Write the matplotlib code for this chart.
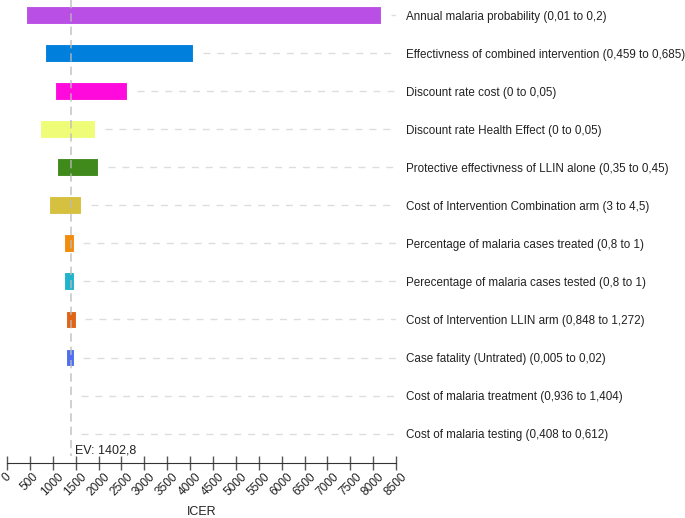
import matplotlib
matplotlib.use('Agg')
import matplotlib.pyplot as plt
import numpy as np

plt.rcParams['font.family'] = ['Liberation Sans', 'DejaVu Sans']

# ===== data =====
labels = ['Annual malaria probability (0,01 to 0,2)',
          'Effectivness of combined intervention (0,459 to 0,685)',
          'Discount rate cost (0 to 0,05)',
          'Discount rate Health Effect (0 to 0,05)',
          'Protective effectivness of LLIN alone (0,35 to 0,45)',
          'Cost of Intervention Combination arm (3 to 4,5)',
          'Percentage of malaria cases treated (0,8 to 1)',
          'Perecentage of malaria cases tested (0,8 to 1)',
          'Cost of Intervention LLIN arm (0,848 to 1,272)',
          'Case fatality (Untrated) (0,005 to 0,02)',
          'Cost of malaria treatment (0,936 to 1,404)',
          'Cost of malaria testing (0,408 to 0,612)']
low = [415, 830, 1050, 720, 1095, 910, 1245, 1245, 1290, 1290, 1402.8, 1402.8]
high = [8170, 4065, 2620, 1925, 1990, 1615, 1455, 1455, 1500, 1455, 1402.8, 1402.8]
colors = ['#ba4fe6', '#0080dc', '#ff0adc', '#eefc78', '#3f8a1a', '#d6c040',
          '#f28c0f', '#1fb4cc', '#e06416', '#4f6ef0', '#cccccc', '#cccccc']
ev = 1402.8
xticks = np.arange(0, 8501, 500)

fig = plt.figure(figsize=(6.85, 5.18), dpi=100)
ax = fig.add_axes([0.0102, 0.107, 0.568, 0.893])

y = np.arange(len(labels))
for i in range(len(labels)):
    if high[i] > low[i]:
        ax.barh(y[i], high[i] - low[i], left=low[i], height=0.47, color=colors[i],
                edgecolor='white', linewidth=0.8, zorder=2)
    start = max(high[i], ev) + 210
    ax.plot([start, 8500], [y[i], y[i]], color='#dddddd', lw=1, dashes=(5, 5), zorder=1)

ax.plot([ev, ev], [-0.4, 11.6], color='#bbbbbb', lw=1.2, dashes=(5, 3), alpha=0.8, zorder=3)
ax.text(ev + 80, 11.45, f'EV: {ev}'.replace('.', ','), fontsize=9, color='#222222', va='center')

ax.set_xlim(0, 8500)
ax.set_ylim(11.76, -0.395)
ax.set_yticks(y)
ax.set_yticklabels(labels, fontsize=8.4, color='#222222')
ax.yaxis.tick_right()
ax.tick_params(axis='y', length=0, pad=7)
ax.set_xticks(xticks)
ax.set_xticklabels([str(t) for t in xticks], rotation=45, ha='center', va='top',
                   fontsize=8.6, color='#222222')
ax.tick_params(axis='x', direction='inout', length=10, width=1, color='#555555', pad=1)
for s in ['top', 'left', 'right']:
    ax.spines[s].set_visible(False)
ax.spines['bottom'].set_color('#333333')
ax.set_xlabel('ICER', fontsize=9, color='#222222', labelpad=6)

fig.savefig('out.png', dpi=100)
